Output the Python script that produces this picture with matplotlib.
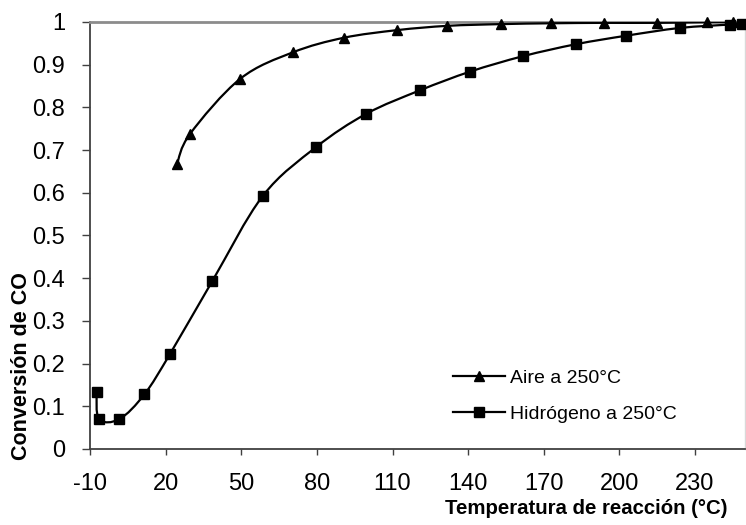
import numpy as np
import matplotlib
matplotlib.use("Agg")
import matplotlib.pyplot as plt
from matplotlib.path import Path
from matplotlib.patches import PathPatch
from matplotlib.lines import Line2D

plt.rcParams['font.family'] = ['Liberation Sans', 'DejaVu Sans']
plt.rcParams['axes.unicode_minus'] = False

# Aire a 250°C
temp_aire = [24.5, 29.7, 49.6, 70.5, 90.6, 111.9, 131.8, 152.9, 172.8, 193.9, 214.9, 234.8, 245.0]
conv_aire = [0.667, 0.738, 0.867, 0.929, 0.963, 0.981, 0.991, 0.995, 0.997, 0.998, 0.998, 1.0, 1.0]

# Hidrógeno a 250°C
temp_h2 = [-7.4, -6.4, 1.7, 11.6, 21.7, 38.5, 58.6, 79.7, 99.6, 120.9, 140.9, 161.8, 182.8, 202.8, 223.9, 243.9, 248.8]
conv_h2 = [0.134, 0.070, 0.070, 0.128, 0.222, 0.393, 0.593, 0.707, 0.785, 0.840, 0.884, 0.920, 0.948, 0.968, 0.986, 0.994, 0.995]

x_ticks = [-10, 20, 50, 80, 110, 140, 170, 200, 230]
y_ticks = [0, 0.1, 0.2, 0.3, 0.4, 0.5, 0.6, 0.7, 0.8, 0.9, 1]
y_labels = ["0", "0.1", "0.2", "0.3", "0.4", "0.5", "0.6", "0.7", "0.8", "0.9", "1"]


def smooth_path(xs, ys):
    # Bezier through the points, like Excel's smoothed line
    p = np.column_stack([xs, ys])
    n = len(p)
    verts = [p[0]]
    codes = [Path.MOVETO]
    for i in range(n - 1):
        p0 = p[i - 1] if i > 0 else p[i]
        p3 = p[i + 2] if i + 2 < n else p[i + 1]
        c1 = p[i] + (p[i + 1] - p0) / 6.0
        c2 = p[i + 1] - (p3 - p[i]) / 6.0
        verts += [c1, c2, p[i + 1]]
        codes += [Path.CURVE4] * 3
    return Path(verts, codes)


fig = plt.figure(figsize=(7.46, 5.25), dpi=100)
ax = fig.add_axes([0.1206, 0.1448, 0.8787, 0.8133])

for xs, ys, mk, ms in [(temp_aire, conv_aire, '^', 7), (temp_h2, conv_h2, 's', 6.5)]:
    ax.add_patch(PathPatch(smooth_path(xs, ys), facecolor='none', edgecolor='black', lw=1.6, zorder=3))
    ax.plot(xs, ys, linestyle='none', marker=mk, markersize=ms, color='black', zorder=4, clip_on=False)

ax.set_xlim(-10, 250)
ax.set_ylim(0, 1)
ax.set_xticks(x_ticks)
ax.set_yticks(y_ticks)
ax.set_yticklabels(y_labels)
ax.tick_params(axis='y', direction='out', length=6, width=1, color='#404040', pad=12, labelsize=17)
ax.tick_params(axis='x', direction='out', length=4.5, width=1, color='#404040', pad=13, labelsize=17)
ax.yaxis.get_major_ticks()[-1].tick1line.set_color('#8c8c8c')

ax.spines['left'].set_color('#404040')
ax.spines['left'].set_linewidth(1.3)
ax.spines['bottom'].set_color('#404040')
ax.spines['bottom'].set_linewidth(1.3)
ax.spines['top'].set_color('#8c8c8c')
ax.spines['top'].set_linewidth(2)
ax.spines['right'].set_color('#d9d9d9')
ax.spines['right'].set_linewidth(1)

fig.text(586 / 746, 1 - 509 / 525, "Temperatura de reacción (°C)", ha='center', va='center',
         fontsize=14.7, fontweight='bold')
fig.text(22 / 746, 1 - 366 / 525, "Conversión de CO", ha='center', va='center', rotation=90,
         fontsize=15.5, fontweight='bold')

handles = [Line2D([], [], color='black', lw=1.6, marker='^', markersize=7),
           Line2D([], [], color='black', lw=1.6, marker='s', markersize=6.5)]
ax.legend(handles, ["Aire a 250°C", "Hidrógeno a 250°C"], frameon=False, fontsize=14,
          loc='upper left', bbox_to_anchor=(453 / 746, 1 - 369 / 525), bbox_transform=fig.transFigure,
          borderpad=0, handlelength=2.7, handletextpad=0.25, labelspacing=0.95, borderaxespad=0)

fig.savefig("out.png", dpi=100)
